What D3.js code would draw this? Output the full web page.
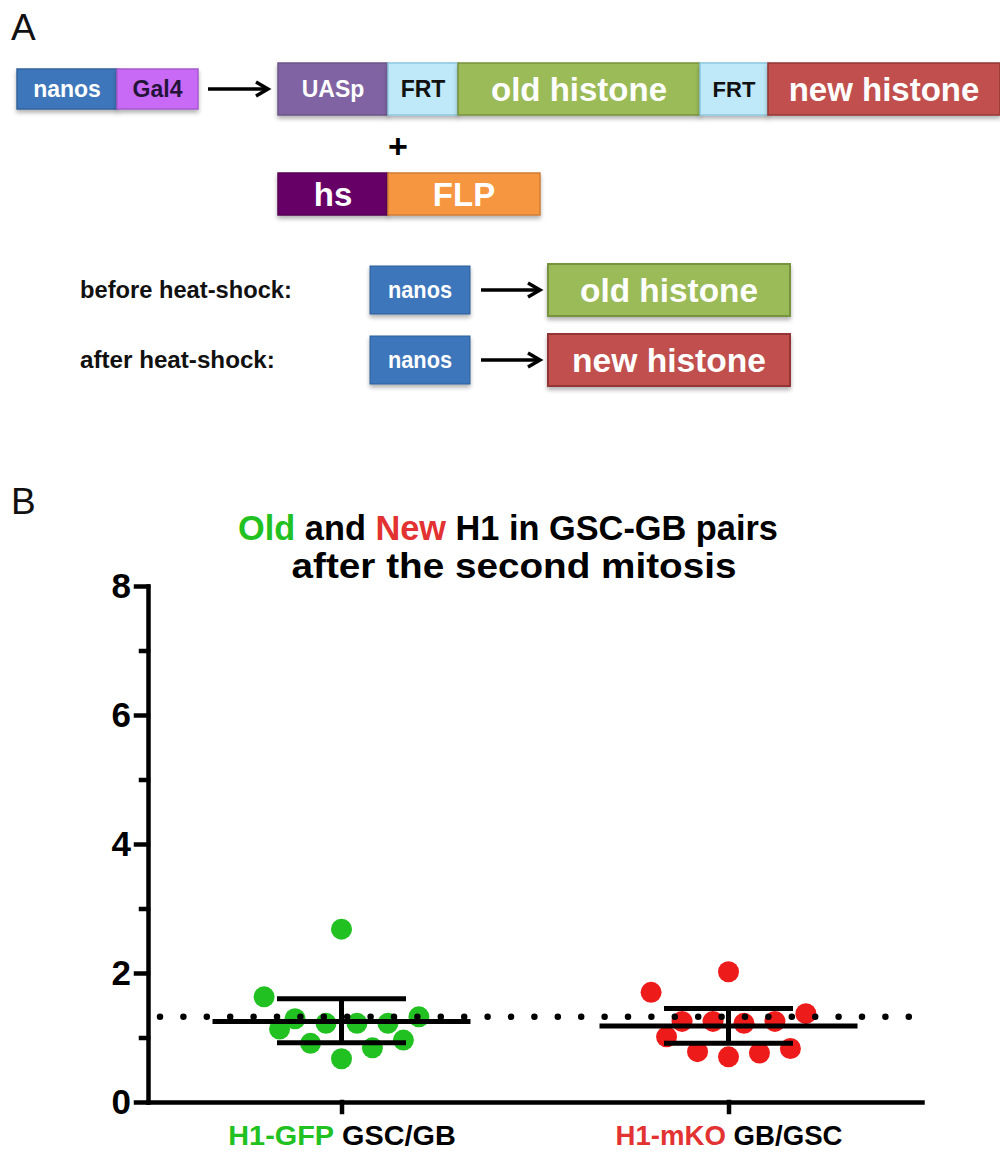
<!DOCTYPE html>
<html lang="en">
<head>
<meta charset="UTF-8">
<title>Old and New H1 in GSC-GB pairs</title>
<script src="https://d3js.org/d3.v7.min.js"></script>
<style>
  body { margin: 0; background: #fff; }
  svg { display: block; font-family: "Liberation Sans", Arial, sans-serif; }
</style>
</head>
<body>
<div id="figure"></div>
<script>
// ---- panel B values ----
const categories = ["H1-GFP GSC/GB", "H1-mKO GB/GSC"];
const labelPrefix = ["H1-GFP", "H1-mKO"];
const labelRest = [" GSC/GB", " GB/GSC"];
const groupColors = ["#22c122", "#ee1b1b"];
const labelColors = ["#22c122", "#e23232"];
const gfpValues = [1.63, 1.13, 1.29, 0.91, 1.22, 0.67, 2.68, 1.22, 0.84, 1.22, 0.96, 1.32];
const mkoValues = [1.70, 1.01, 1.25, 0.78, 1.25, 0.70, 2.02, 1.22, 0.76, 1.25, 0.83, 1.37];
const swarmSlots = [-5, -4, -3, -2, -1, 0, 0, 1, 2, 3, 4, 5]; // column order of the dots
const groupMeans = [1.25, 1.18];
const errLow = [0.92, 0.91];
const errHigh = [1.60, 1.45];
const refLevel = 1.32;
const yMajor = [0, 2, 4, 6, 8];
const yMinor = [1, 3, 5, 7];

// ---- panel A construct diagram ----
const driverParts = [
  {label: "nanos", x: 17, w: 100, fill: "#3c76bb", color: "#fff", size: 23},
  {label: "Gal4", x: 117, w: 81, fill: "#c86af5", color: "#24143a", size: 23}
];
const reporterParts = [
  {label: "UASp", x: 278, w: 110, fill: "#8064a2", color: "#fff", size: 23},
  {label: "FRT", x: 388, w: 70, fill: "#bfe9f8", color: "#111", size: 23, stroke: "#8cc7de"},
  {label: "old histone", x: 458, w: 242, fill: "#9bbb59", color: "#fff", size: 33, stroke: "#77933c"},
  {label: "FRT", x: 700, w: 68, fill: "#bfe9f8", color: "#111", size: 22, stroke: "#8cc7de"},
  {label: "new histone", x: 768, w: 232, fill: "#c0504d", color: "#fff", size: 33, stroke: "#943634"}
];
const flpParts = [
  {label: "hs", x: 278, w: 110, fill: "#660066", color: "#fff", size: 33},
  {label: "FLP", x: 388, w: 152, fill: "#f7963f", color: "#fff", size: 33}
];
const stateRows = [
  {label: "before heat-shock:", labelW: 212, y: 264, h: 52, histone: "old histone", fill: "#9bbb59", stroke: "#77933c"},
  {label: "after heat-shock:", labelW: 195, y: 334, h: 52, histone: "new histone", fill: "#c0504d", stroke: "#943634"}
];

const W = 1000, H = 1152;
const svg = d3.select("#figure").append("svg")
  .attr("width", W).attr("height", H);
svg.append("rect").attr("width", W).attr("height", H).attr("fill", "#fff");

const defs = svg.append("defs");
defs.append("filter").attr("id", "shadow")
  .attr("x", "-10%").attr("y", "-20%").attr("width", "120%").attr("height", "160%")
  .append("feDropShadow")
  .attr("dx", 0).attr("dy", 3).attr("stdDeviation", 2)
  .attr("flood-color", "#000").attr("flood-opacity", 0.3);

// squeeze a text element horizontally to a given width, keeping its anchor
function fitWidth(sel, width, ax) {
  const w = sel.node().getBBox().width;
  if (!w) return;
  const s = width / w;
  sel.attr("transform", `translate(${ax},0) scale(${s},1) translate(${-ax},0)`);
}

function drawBoxes(g, parts, y, h) {
  parts.forEach(p => {
    g.append("rect")
      .attr("x", p.x).attr("y", y).attr("width", p.w).attr("height", h)
      .attr("fill", p.fill)
      .attr("stroke", p.stroke || d3.color(p.fill).darker(0.5))
      .attr("stroke-width", 1.5)
      .attr("filter", "url(#shadow)");
    g.append("text")
      .attr("x", p.x + p.w / 2).attr("y", y + h / 2)
      .attr("dy", "0.36em")
      .attr("text-anchor", "middle")
      .attr("font-weight", "bold")
      .attr("font-size", p.size)
      .attr("fill", p.color)
      .text(p.label);
  });
}

function drawArrow(g, x1, x2, yy) {
  g.append("line")
    .attr("x1", x1).attr("x2", x2 - 2).attr("y1", yy).attr("y2", yy)
    .attr("stroke", "#000").attr("stroke-width", 3.5);
  g.append("path")
    .attr("d", `M${x2 - 12},${yy - 7}L${x2},${yy}L${x2 - 12},${yy + 7}`)
    .attr("fill", "none").attr("stroke", "#000").attr("stroke-width", 3.5)
    .attr("stroke-linejoin", "miter");
}

// ---------------- Panel A ----------------
const pa = svg.append("g");
pa.append("text").attr("x", 11).attr("y", 40)
  .attr("font-size", 37).attr("fill", "#111").text("A");

drawBoxes(pa, driverParts, 69, 40);
drawArrow(pa, 208, 268, 89);
drawBoxes(pa, reporterParts, 63, 52);
pa.append("text").attr("x", 398).attr("y", 146).attr("dy", "0.36em")
  .attr("text-anchor", "middle").attr("font-weight", "bold").attr("font-size", 34)
  .text("+");
drawBoxes(pa, flpParts, 173, 42);

stateRows.forEach(r => {
  const cy = r.y + r.h / 2;
  const lab = pa.append("text").attr("x", 80).attr("y", cy).attr("dy", "0.36em")
    .attr("font-weight", "bold").attr("font-size", 23).attr("fill", "#111")
    .text(r.label);
  fitWidth(lab, r.labelW, 80);

  pa.append("rect").attr("x", 370).attr("y", cy - 24).attr("width", 100).attr("height", 48)
    .attr("fill", "#3c76bb").attr("stroke", "#2f5f98").attr("stroke-width", 1)
    .attr("filter", "url(#shadow)");
  const nt = pa.append("text").attr("x", 420).attr("y", cy).attr("dy", "0.36em")
    .attr("text-anchor", "middle").attr("font-weight", "bold").attr("font-size", 23)
    .attr("fill", "#fff").text("nanos");
  fitWidth(nt, 64, 420);

  drawArrow(pa, 481, 540, cy);

  pa.append("rect").attr("x", 548).attr("y", r.y).attr("width", 242).attr("height", r.h)
    .attr("fill", r.fill).attr("stroke", r.stroke).attr("stroke-width", 2)
    .attr("filter", "url(#shadow)");
  const ht = pa.append("text").attr("x", 669).attr("y", cy).attr("dy", "0.36em")
    .attr("text-anchor", "middle").attr("font-weight", "bold").attr("font-size", 34)
    .attr("fill", "#fff").text(r.histone);
  fitWidth(ht, r.histone === "old histone" ? 178 : 194, 669);
});

// ---------------- Panel B ----------------
const pb = svg.append("g");
pb.append("text").attr("x", 11).attr("y", 514)
  .attr("font-size", 37).attr("fill", "#111").text("B");

const title1 = pb.append("text").attr("x", 508).attr("y", 540)
  .attr("text-anchor", "middle").attr("font-weight", "bold").attr("font-size", 35);
title1.append("tspan").attr("fill", "#22c122").text("Old");
title1.append("tspan").attr("fill", "#000").text(" and ");
title1.append("tspan").attr("fill", "#e23232").text("New");
title1.append("tspan").attr("fill", "#000").text(" H1 in GSC-GB pairs");
fitWidth(title1, 540, 508);

const title2 = pb.append("text").attr("x", 514).attr("y", 578)
  .attr("text-anchor", "middle").attr("font-weight", "bold").attr("font-size", 35)
  .text("after the second mitosis");
fitWidth(title2, 445, 514);

const y = d3.scaleLinear().domain([0, 8]).range([1102, 586]);
const x = d3.scalePoint().domain(categories).range([148, 922]).padding(0.5);
const slotX = d3.scaleLinear().domain([0, 1]).range([0, x.step() * 0.04]);

// y axis: major + minor ticks
const yAxisG = pb.append("g").attr("transform", "translate(148,0)")
  .call(d3.axisLeft(y).tickValues(yMajor).tickSize(12).tickSizeOuter(0).tickPadding(5));
pb.append("g").attr("transform", "translate(148,0)")
  .call(d3.axisLeft(y).tickValues(yMinor).tickSize(7).tickFormat(""))
  .call(g => g.select(".domain").remove());

// x axis
const xAxisG = pb.append("g").attr("transform", "translate(0,1102)")
  .call(d3.axisBottom(x).tickSize(10).tickSizeOuter(0).tickPadding(14));

pb.selectAll(".tick line, .domain")
  .attr("stroke", "#000").attr("stroke-width", 4.5).attr("stroke-linecap", "square");
yAxisG.selectAll(".tick text")
  .attr("font-family", "Liberation Sans, Arial, sans-serif")
  .attr("font-size", 35).attr("font-weight", "bold").attr("fill", "#000");

// tick labels live inside the translated tick group, so anchor the squeeze at 0
xAxisG.selectAll(".tick text").each(function(d, i) {
  const t = d3.select(this)
    .attr("font-family", "Liberation Sans, Arial, sans-serif")
    .attr("font-size", 27).attr("font-weight", "bold").text(null);
  t.append("tspan").attr("fill", labelColors[i]).text(labelPrefix[i]);
  t.append("tspan").attr("fill", "#000").text(labelRest[i]);
  fitWidth(t, 227, 0);
});

// points
const groups = [gfpValues, mkoValues];
groups.forEach((vals, gi) => {
  const cx = x(categories[gi]);
  pb.append("g").selectAll("circle")
    .data(vals)
    .join("circle")
    .attr("cx", (d, i) => cx + slotX(swarmSlots[i]))
    .attr("cy", d => y(d))
    .attr("r", 10.5)
    .attr("fill", groupColors[gi]);
});

// mean and error bars
categories.forEach((c, gi) => {
  const cx = x(c);
  const half = x.step() / 3, cap = x.step() / 6;
  const g = pb.append("g").attr("stroke", "#000").attr("stroke-width", 5);
  g.append("line").attr("x1", cx - half).attr("x2", cx + half)
    .attr("y1", y(groupMeans[gi])).attr("y2", y(groupMeans[gi]));
  g.append("line").attr("x1", cx).attr("x2", cx)
    .attr("y1", y(errLow[gi])).attr("y2", y(errHigh[gi]));
  [errLow[gi], errHigh[gi]].forEach(v => {
    g.append("line").attr("x1", cx - cap).attr("x2", cx + cap)
      .attr("y1", y(v)).attr("y2", y(v));
  });
});

// dotted reference line
pb.append("line")
  .attr("x1", 160).attr("x2", 910)
  .attr("y1", y(refLevel)).attr("y2", y(refLevel))
  .attr("stroke", "#000").attr("stroke-width", 6.5)
  .attr("stroke-linecap", "round")
  .attr("stroke-dasharray", "0 23.4");
</script>
</body>
</html>
